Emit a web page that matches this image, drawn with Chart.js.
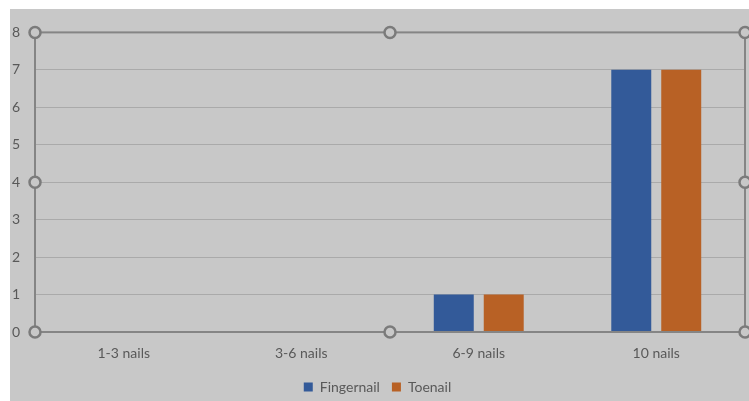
<!DOCTYPE html>
<html>
<head>
<meta charset="utf-8">
<script src="https://cdn.jsdelivr.net/npm/chart.js@4/dist/chart.umd.min.js"></script>
<style>
  html, body { margin: 0; padding: 0; background: #ffffff; }
  #wrap { position: absolute; left: 10px; top: 9px; width: 739px; height: 392px; background: #c8c8c8; overflow: hidden; }
  canvas { display: block; }
</style>
</head>
<body>
<div id="wrap"><canvas id="c" width="739" height="392"></canvas></div>
<script>
const categories = ['1-3 nails', '3-6 nails', '6-9 nails', '10 nails'];
const fingernail = [0, 0, 1, 7];
const toenail = [0, 0, 1, 7];
const yTicks = [0, 1, 2, 3, 4, 5, 6, 7, 8];

// Selection frame with handles around the plot area
const frame = {
  id: 'frame',
  afterDraw(chart) {
    const { ctx, chartArea: a } = chart;
    ctx.save();
    ctx.strokeStyle = '#858585';
    ctx.lineWidth = 2;
    ctx.strokeRect(a.left, a.top, a.right - a.left, a.bottom - a.top);
    const mx = (a.left + a.right) / 2, my = (a.top + a.bottom) / 2;
    const pts = [[a.left, a.top], [mx, a.top], [a.right, a.top],
                 [a.left, my], [a.right, my],
                 [a.left, a.bottom], [mx, a.bottom], [a.right, a.bottom]];
    ctx.lineWidth = 2.5;
    ctx.strokeStyle = '#7b7b7b';
    ctx.fillStyle = '#c8c8c8';
    for (const [x, y] of pts) {
      ctx.beginPath();
      ctx.arc(x, y, 5.5, 0, Math.PI * 2);
      ctx.fill();
      ctx.stroke();
    }
    ctx.restore();
  }
};

new Chart(document.getElementById('c'), {
  type: 'bar',
  data: {
    labels: categories,
    datasets: [
      { label: 'Fingernail', data: fingernail, backgroundColor: '#335a99' },
      { label: 'Toenail', data: toenail, backgroundColor: '#b86125' }
    ]
  },
  options: {
    responsive: false,
    animation: false,
    layout: { padding: { left: 0, top: 23, right: 4, bottom: -3 } },
    datasets: { bar: { barPercentage: 0.8, categoryPercentage: 0.563 } },
    plugins: {
      legend: {
        position: 'bottom',
        labels: {
          boxWidth: 9, boxHeight: 9, padding: 12,
          color: '#595959',
          font: { family: 'Lato', size: 14 }
        }
      },
      tooltip: { enabled: false }
    },
    scales: {
      x: {
        grid: { display: false, drawTicks: false },
        border: { display: false },
        ticks: { color: '#595959', padding: 13, font: { family: 'Lato', size: 14 } },
        afterFit(s) { s.height = 36; }
      },
      y: {
        min: 0, max: 8,
        afterBuildTicks(s) { s.ticks = yTicks.map(v => ({ value: v })); },
        grid: { color: '#aaaaaa', lineWidth: 1, drawTicks: false },
        border: { display: false },
        ticks: { color: '#595959', padding: 15, font: { family: 'Lato', size: 14 } },
        afterFit(s) { s.width = 25; }
      }
    }
  },
  plugins: [frame]
});
</script>
</body>
</html>
